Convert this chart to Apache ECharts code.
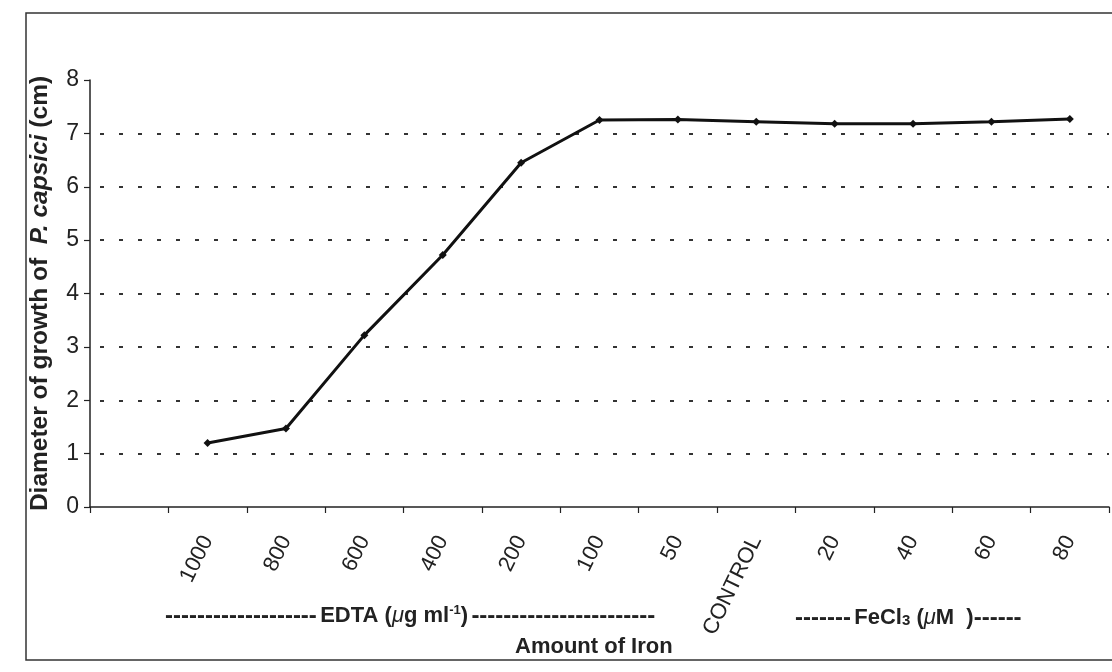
<!DOCTYPE html>
<html>
<head>
<meta charset="utf-8">
<script src="https://cdn.jsdelivr.net/npm/echarts@6/dist/echarts.min.js"></script>
<style>
html,body{margin:0;padding:0;background:#fff;}
#chart{width:1112px;height:672px;}
</style>
</head>
<body>
<div id="chart"></div>
<script>
var categories = ['', '1000', '800', '600', '400', '200', '100', '50', 'CONTROL', '20', '40', '60', '80'];
var growth = [null, 1.2, 1.47, 3.22, 4.72, 6.45, 7.25, 7.26, 7.22, 7.18, 7.18, 7.22, 7.27];
var yTicks = [0, 1, 2, 3, 4, 5, 6, 7, 8];
var gridValues = [1, 2, 3, 4, 5, 6, 7];

var chart = echarts.init(document.getElementById('chart'));
var font = '"Liberation Sans", Arial, sans-serif';
chart.setOption({
  animation: false,
  backgroundColor: '#fff',
  textStyle: { fontFamily: font },
  grid: { left: 90, right: 3, top: 80, bottom: 165 },
  xAxis: {
    type: 'category',
    data: categories,
    boundaryGap: true,
    axisLine: { lineStyle: { color: '#222', width: 1.5 } },
    axisTick: { show: true, length: 6, inside: false, lineStyle: { color: '#222', width: 1.2 } },
    axisLabel: { rotate: 64, fontSize: 22, color: '#222', margin: 30, fontFamily: font, interval: 0 },
    splitLine: { show: false }
  },
  yAxis: {
    type: 'value',
    min: yTicks[0],
    max: yTicks[yTicks.length - 1],
    interval: 1,
    name: '{b|Diameter of growth of  }{i|P. capsici}{b| (cm)}',
    nameLocation: 'middle',
    nameRotate: 90,
    nameGap: 37,
    nameTextStyle: {
      rich: {
        b: { fontSize: 24.5, fontWeight: 'bold', color: '#222', fontFamily: font },
        i: { fontSize: 24.5, fontWeight: 'bold', fontStyle: 'italic', color: '#222', fontFamily: font }
      }
    },
    axisLine: { show: true, lineStyle: { color: '#222', width: 1.5 } },
    axisTick: { show: true, length: 6, lineStyle: { color: '#222', width: 1.2 } },
    axisLabel: { fontSize: 23, color: '#222', margin: 11, fontFamily: font },
    splitLine: { show: false }
  },
  series: [{
    type: 'line',
    data: growth,
    connectNulls: false,
    symbol: 'diamond',
    symbolSize: 8,
    lineStyle: { color: '#111', width: 3 },
    itemStyle: { color: '#111' },
    z: 5,
    markLine: {
      silent: true,
      symbol: ['none', 'none'],
      label: { show: false },
      lineStyle: { color: '#333', width: 2, type: [4, 15], dashOffset: -10 },
      data: gridValues.map(function (v) { return { yAxis: v }; })
    }
  }],
  graphic: [
    {
      type: 'rect',
      shape: { x: 26, y: 13, width: 1100, height: 647 },
      style: { fill: 'none', stroke: '#333', lineWidth: 1.5 },
      silent: true
    },
    {
      type: 'text',
      left: 165, top: 604,
      style: {
        text: '{d|-------------------} {t|EDTA (}{m|μ}{t|g ml}{s|-1}{t|)} {d|-----------------------}',
        rich: {
          d: { fontSize: 24, fontWeight: 'bold', fill: '#222', fontFamily: font },
          t: { fontSize: 22, fontWeight: 'bold', fill: '#222', fontFamily: font },
          m: { fontSize: 22, fontStyle: 'italic', fill: '#222', fontFamily: font },
          s: { fontSize: 13, fontWeight: 'bold', fill: '#222', fontFamily: font, verticalAlign: 'top', padding: [0, 0, 10, 0] }
        }
      }
    },
    {
      type: 'text',
      left: 795, top: 606,
      style: {
        text: '{d|-------} {t|FeCl}{s|3}{t| (}{m|μ}{t|M  )}{d|------}',
        rich: {
          d: { fontSize: 24, fontWeight: 'bold', fill: '#222', fontFamily: font },
          t: { fontSize: 22, fontWeight: 'bold', fill: '#222', fontFamily: font },
          m: { fontSize: 22, fontStyle: 'italic', fill: '#222', fontFamily: font },
          s: { fontSize: 15, fontWeight: 'bold', fill: '#222', fontFamily: font, padding: [6, 0, 0, 0] }
        }
      }
    },
    {
      type: 'text',
      left: 515, top: 636,
      style: { text: 'Amount of Iron', fontSize: 22, fontWeight: 'bold', fill: '#222', fontFamily: font }
    }
  ]
});
</script>
</body>
</html>
